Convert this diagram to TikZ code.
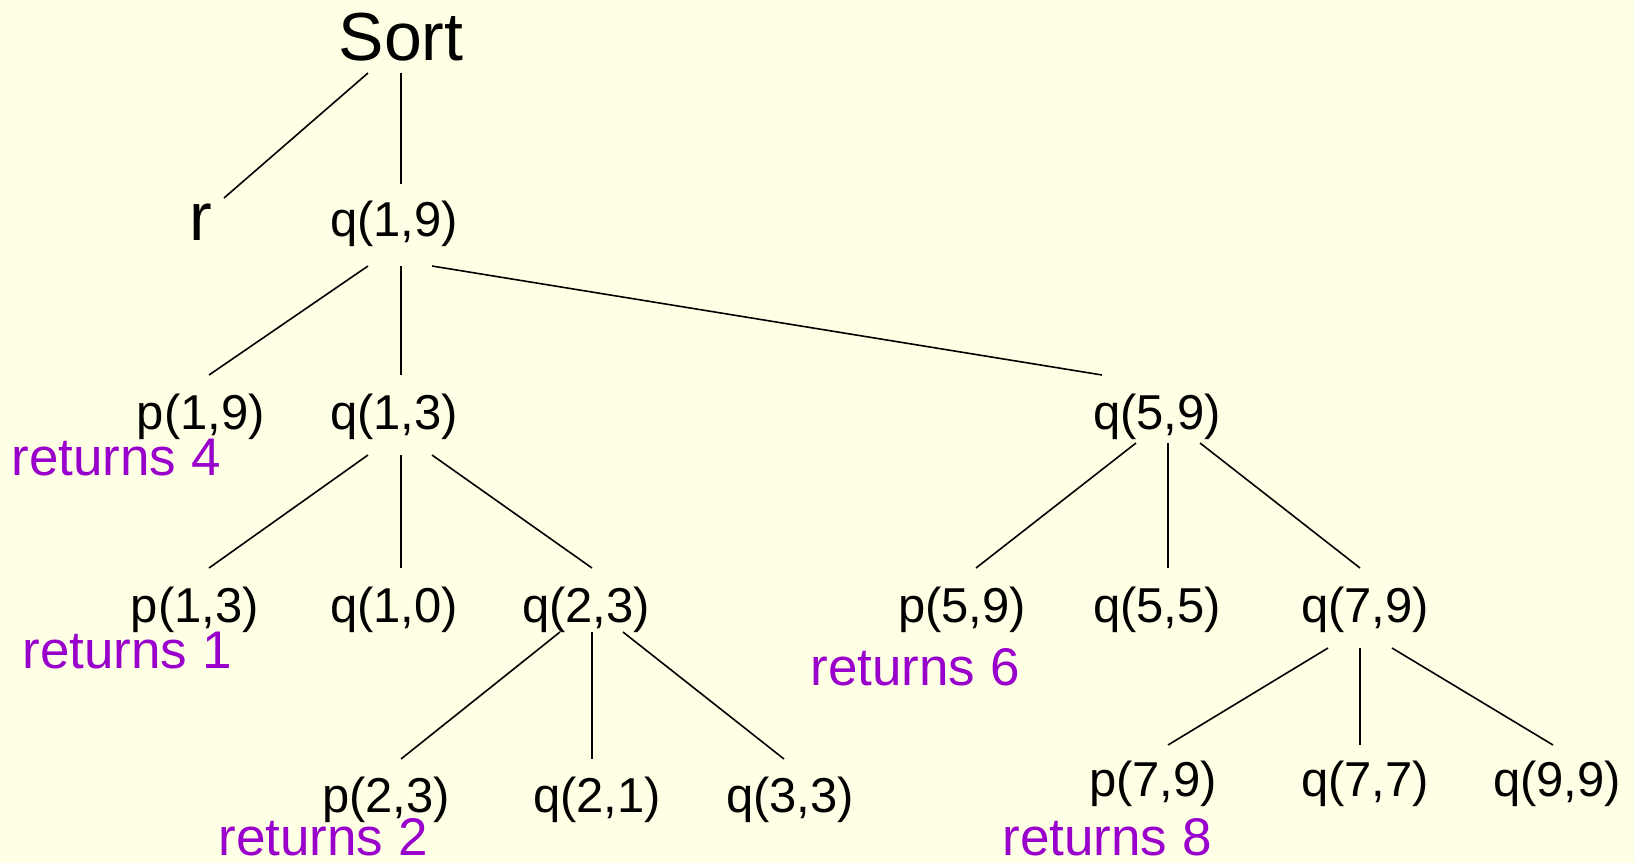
\documentclass[tikz,border=0pt]{standalone}
\usepackage{fontspec}
\setmainfont{Liberation Sans}
\definecolor{paper}{RGB}{255,255,229}
\definecolor{retcol}{RGB}{153,0,204}
\begin{document}
\begin{tikzpicture}[x=0.5pt,y=-0.5pt,
  call/.style={inner sep=0pt,anchor=center,font=\fontsize{24.5}{28}\selectfont},
  big/.style={inner sep=0pt,anchor=center,font=\fontsize{34}{38}\selectfont},
  ret/.style={inner sep=0pt,anchor=center,text=retcol,font=\fontsize{26.5}{30}\selectfont},
  edge/.style={line width=0.8pt}]
\fill[paper] (0,0) rectangle (1634,863);
\useasboundingbox (0,0) rectangle (1634,863);

% tree nodes
\node[big]  (sort) at (401,37)  {Sort};
\node[big]  (r)    at (201,222) {r};
\node[call] (q19)  at (394,224) {q(1,9)};
\node[call] (p19)  at (201,417) {p(1,9)};
\node[call] (q13)  at (394,417) {q(1,3)};
\node[call] (q59)  at (1157,417) {q(5,9)};
\node[call] (p13)  at (195,610) {p(1,3)};
\node[call] (q10)  at (394,610) {q(1,0)};
\node[call] (q23)  at (586,610) {q(2,3)};
\node[call] (p59)  at (962,610) {p(5,9)};
\node[call] (q55)  at (1157,610) {q(5,5)};
\node[call] (q79)  at (1365,610) {q(7,9)};
\node[call] (p23)  at (386,800) {p(2,3)};
\node[call] (q21)  at (597,800) {q(2,1)};
\node[call] (q33)  at (790,800) {q(3,3)};
\node[call] (p79)  at (1153,784) {p(7,9)};
\node[call] (q77)  at (1365,784) {q(7,7)};
\node[call] (q99)  at (1557,784) {q(9,9)};

% results of the partition calls
\node[ret] (ret4) at (116,458)  {returns 4};
\node[ret] (ret1) at (127,651)  {returns 1};
\node[ret] (ret6) at (915,667)  {returns 6};
\node[ret] (ret2) at (323,837)  {returns 2};
\node[ret] (ret8) at (1107,837) {returns 8};

% end points of the branches
\coordinate (sort-l) at (368,73);  \coordinate (sort-m) at (401,73);
\coordinate (r-t)    at (224,198); \coordinate (q19-t)  at (401,184);
\coordinate (q19-l)  at (368,266); \coordinate (q19-m)  at (401,266); \coordinate (q19-r) at (432,266);
\coordinate (p19-t)  at (209,375); \coordinate (q13-t)  at (401,375); \coordinate (q59-t) at (1102,375);
\coordinate (q13-l)  at (368,455); \coordinate (q13-m)  at (401,455); \coordinate (q13-r) at (432,455);
\coordinate (p13-t)  at (209,568); \coordinate (q10-t)  at (401,568); \coordinate (q23-t) at (592,568);
\coordinate (q23-l)  at (560,632); \coordinate (q23-m)  at (592,632); \coordinate (q23-r) at (623,632);
\coordinate (p23-t)  at (401,759); \coordinate (q21-t)  at (592,759); \coordinate (q33-t) at (784,759);
\coordinate (q59-l)  at (1136,443); \coordinate (q59-m) at (1168,443); \coordinate (q59-r) at (1200,443);
\coordinate (p59-t)  at (976,568);  \coordinate (q55-t) at (1168,568); \coordinate (q79-t) at (1360,568);
\coordinate (q79-l)  at (1328,648); \coordinate (q79-m) at (1360,648); \coordinate (q79-r) at (1392,648);
\coordinate (p79-t)  at (1168,745); \coordinate (q77-t) at (1360,745); \coordinate (q99-t) at (1553,745);

% branches
\draw[edge] (sort-l) -- (r-t);
\draw[edge] (sort-m) -- (q19-t);
\draw[edge] (q19-l) -- (p19-t);
\draw[edge] (q19-m) -- (q13-t);
\draw[edge] (q19-r) -- (q59-t);
\draw[edge] (q13-l) -- (p13-t);
\draw[edge] (q13-m) -- (q10-t);
\draw[edge] (q13-r) -- (q23-t);
\draw[edge] (q23-l) -- (p23-t);
\draw[edge] (q23-m) -- (q21-t);
\draw[edge] (q23-r) -- (q33-t);
\draw[edge] (q59-l) -- (p59-t);
\draw[edge] (q59-m) -- (q55-t);
\draw[edge] (q59-r) -- (q79-t);
\draw[edge] (q79-l) -- (p79-t);
\draw[edge] (q79-m) -- (q77-t);
\draw[edge] (q79-r) -- (q99-t);
\end{tikzpicture}
\end{document}
